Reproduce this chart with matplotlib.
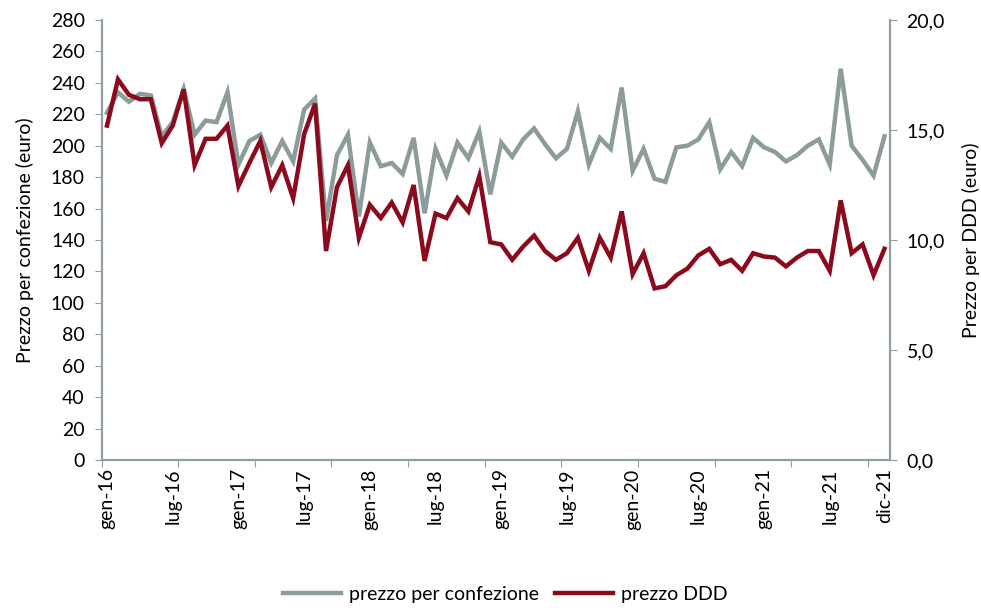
import numpy as np
import matplotlib
matplotlib.use("Agg")
import matplotlib.pyplot as plt
from matplotlib.ticker import FuncFormatter

GRAY = "#8C9C9A"
RED = "#8B0A1E"
AXIS = "#8FA09E"

# monthly series gen-16 .. dic-21
prezzo_confezione = [
    221, 234, 228, 233, 232, 206, 215, 236, 207, 216, 215, 234,
    188, 203, 207, 189, 203, 190, 223, 230, 152, 194, 207, 155,
    202, 187, 189, 182, 205, 157, 198, 181, 202, 192, 209, 169,
    202, 193, 204, 211, 201, 192, 198, 222, 188, 205, 198, 237,
    184, 198, 179, 177, 199, 200, 204, 215, 185, 196, 187, 205,
    199, 196, 190, 194, 200, 204, 188, 249, 200, 191, 181, 206,
]
prezzo_ddd = [
    15.2, 17.3, 16.6, 16.4, 16.4, 14.4, 15.2, 16.85, 13.4, 14.6, 14.6, 15.2,
    12.45, 13.5, 14.5, 12.4, 13.4, 11.9, 14.8, 16.2, 9.5, 12.4, 13.4, 10.1,
    11.6, 11.0, 11.7, 10.8, 12.5, 9.05, 11.2, 11.0, 11.9, 11.3, 12.9, 9.9,
    9.8, 9.1, 9.7, 10.2, 9.5, 9.1, 9.4, 10.1, 8.6, 10.1, 9.2, 11.3,
    8.45, 9.4, 7.8, 7.9, 8.4, 8.7, 9.3, 9.6, 8.9, 9.1, 8.6, 9.4,
    9.25, 9.2, 8.8, 9.2, 9.5, 9.5, 8.6, 11.8, 9.4, 9.8, 8.4, 9.6,
]
label_pos = [0, 6, 12, 18, 24, 30, 36, 42, 48, 54, 60, 66, 71]
label_txt = ["gen-16", "lug-16", "gen-17", "lug-17", "gen-18", "lug-18", "gen-19",
             "lug-19", "gen-20", "lug-20", "gen-21", "lug-21", "dic-21"]

plt.rcParams.update({"font.family": ["Lato", "DejaVu Sans"], "font.size": 14})

fig = plt.figure(figsize=(9.81, 6.08), dpi=100)
ax = fig.add_axes([0.1035, 0.2434, 0.8037, 0.7237])
ax2 = ax.twinx()

x = np.arange(len(prezzo_confezione))
l1, = ax.plot(x, prezzo_confezione, color=GRAY, lw=3.2, solid_joinstyle="miter",
              label="prezzo per confezione", zorder=2)
l2, = ax2.plot(x, prezzo_ddd, color=RED, lw=3.2, solid_joinstyle="miter",
               label="prezzo DDD", zorder=3)

ax.set_xlim(-0.5, len(x) - 0.5)
ax.set_ylim(0, 280)
ax.set_yticks(range(0, 281, 20))
ax2.set_ylim(0, 20)
ax2.set_yticks(np.arange(0, 20.1, 5))
ax2.yaxis.set_major_formatter(FuncFormatter(lambda v, p: f"{v:.1f}".replace(".", ",")))

# tick marks every 7 categories at boundaries, labels on chosen months
ax.set_xticks(np.arange(-0.5, len(x), 7))
ax.set_xticklabels([])
ax.set_xticks(label_pos, minor=True)
ax.set_xticklabels(label_txt, minor=True, rotation=90)
ax.tick_params(axis="x", which="major", length=5, color=AXIS, direction="out")
ax.tick_params(axis="x", which="minor", length=0, pad=6)
ax.tick_params(axis="y", length=5, color=AXIS, direction="out", pad=7)
ax2.tick_params(axis="y", length=5, color=AXIS, direction="out", pad=7)

for a in (ax, ax2):
    a.spines["top"].set_visible(False)
    for s in ("left", "right", "bottom"):
        a.spines[s].set_color(AXIS)
        a.spines[s].set_linewidth(1.5)

ax.set_ylabel("Prezzo per confezione (euro)", labelpad=12)
ax2.set_ylabel("Prezzo per DDD (euro)", labelpad=12)

fig.legend(handles=[l1, l2], loc="lower center", bbox_to_anchor=(0.515, -0.02),
           ncol=2, frameon=False, handlelength=3.0, columnspacing=0.8,
           handletextpad=0.4)

fig.savefig("out.png", dpi=100)
